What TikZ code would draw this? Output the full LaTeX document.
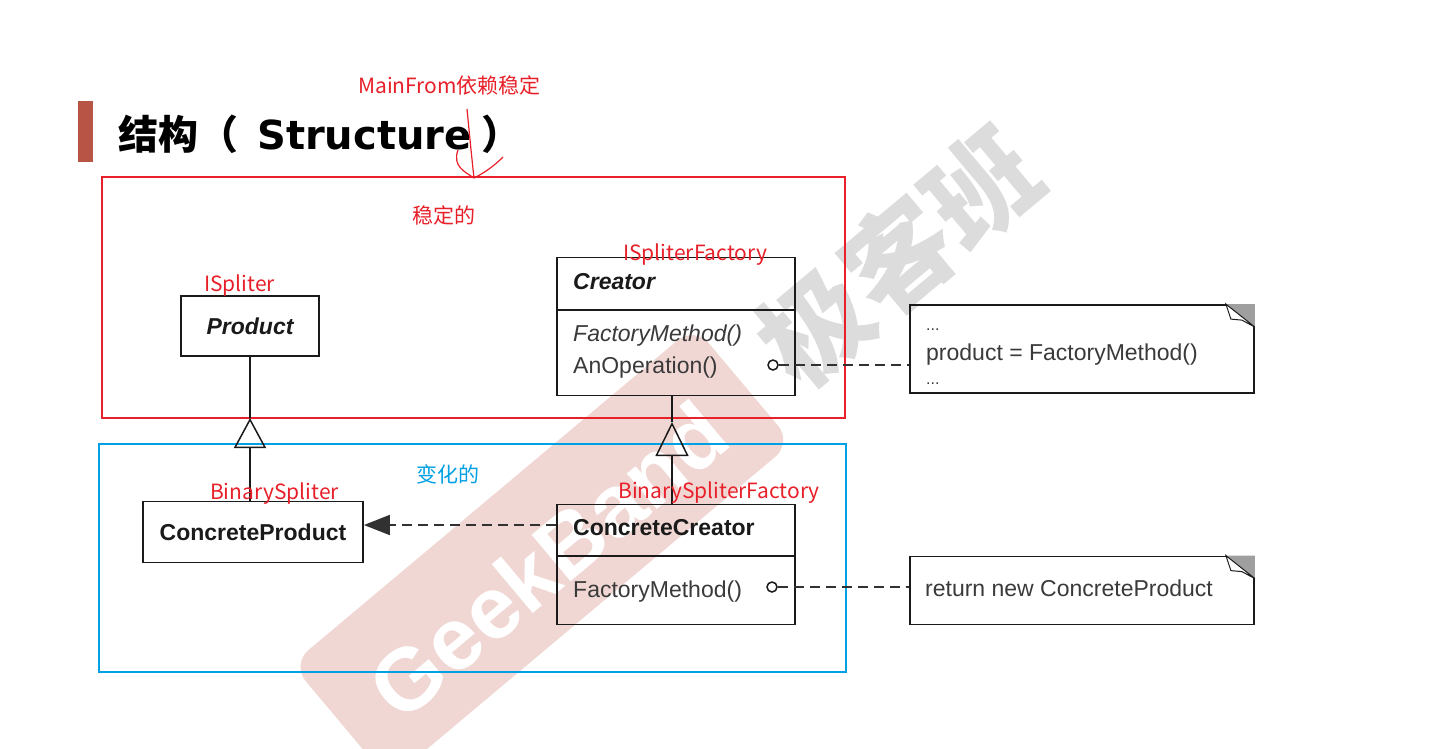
\documentclass[tikz,border=0pt]{standalone}
\usepackage{fontspec}
\setmainfont{Liberation Sans}
\newfontfamily\cjk{Noto Sans CJK SC}
\newfontfamily\titlelatin{DejaVu Sans}
\usetikzlibrary{arrows.meta}
\definecolor{lblred}{HTML}{E8202A}
\definecolor{lblblue}{HTML}{00A0E4}
\definecolor{barred}{HTML}{B85445}
\definecolor{wmpink}{HTML}{F0D7D4}
\definecolor{wmgrey}{HTML}{DCDCDC}
\definecolor{umlline}{HTML}{1A1A1A}
\definecolor{umltext}{HTML}{3A3A3A}
\begin{document}
\begin{tikzpicture}[x=1pt,y=-1pt,
  cls/.style={draw=umlline, line width=1.8pt, inner sep=0pt, rectangle, text=umlline,
    font=\bfseries\fontsize{23}{23}\selectfont},
  txt/.style={anchor=base west, inner sep=0pt, text=umltext, font=\fontsize{23}{23}\selectfont},
  lbl/.style={anchor=base west, inner sep=0pt, text=lblred, font=\cjk\fontsize{21}{21}\selectfont},
  ttl/.style={anchor=base west, inner sep=0pt, text=black},
  frame/.style={line width=1.6pt, inner sep=0pt, rectangle},
  gen/.style={line width=1.8pt, draw=umlline},
  dep/.style={dash pattern=on 10pt off 6pt, line width=1.8pt, draw=umlline!90},
  notebox/.style={draw=umlline, line width=1.8pt, inner sep=0pt, rectangle},
  dot/.style={circle, draw=umlline, line width=1.5pt, minimum size=10pt, inner sep=0pt}
]
\useasboundingbox[fill=white] (0,0) rectangle (1449,748);
% watermark
\begin{scope}
  \clip (0,0) rectangle (1449,748);
  \begin{scope}[shift={(300,665)}, rotate=40]
    \fill[wmpink, rounded corners=22pt] (-6,-6) rectangle (520,146);
  \end{scope}
\end{scope}
\node[rotate=40, inner sep=0pt, text=white, font=\bfseries\fontsize{88}{88}\selectfont] (wmen) at (548,560) {GeekBand};
\node[rotate=40, inner sep=0pt, text=wmgrey, font=\cjk\bfseries\fontsize{108}{108}\selectfont] (wmcn) at (898,256) {极客班};

% title
\fill[barred] (78,101) rectangle (93,162);
\node[ttl, font=\cjk\bfseries\fontsize{40}{40}\selectfont] (title) at (118,149) {结构（};
\node[ttl, font=\titlelatin\bfseries\fontsize{40}{40}\selectfont] (titleen) at (257,149) {Structure};
\node[ttl, font=\cjk\bfseries\fontsize{40}{40}\selectfont] (titleend) at (481,149) {）};
\node[lbl] (mainfrom) at (358,93) {MainFrom依赖稳定};
\draw[lblred, line width=1.2pt] (467,109) .. controls (470,140) and (472,160) .. (474,178);
\draw[lblred, line width=1.2pt] (458,150) .. controls (452,166) and (465,172) .. (474,178);
\draw[lblred, line width=1.2pt] (503,157) .. controls (492,168) and (482,174) .. (474,178);

% frames
\node[frame, draw=lblred, minimum width=743pt, minimum height=241pt] (stable) at (473.5,297.5) {};
\node[frame, draw=lblblue, minimum width=747pt, minimum height=228pt] (vary) at (472.5,558) {};
\node[lbl, anchor=center] (stablelbl) at (444,215) {稳定的};
\node[lbl, anchor=center, text=lblblue] (varylbl) at (448,474) {变化的};

% classes
\node[cls, minimum width=138pt, minimum height=60pt] (product) at (250,326) {\itshape Product};
\node[cls, minimum width=220pt, minimum height=61pt] (cprod) at (253,532) {ConcreteProduct};
\node[cls, minimum width=238pt, minimum height=138pt] (creator) at (676,326.5) {};
\coordinate (div1) at (0,310);
\draw[gen] (creator.west |- div1) -- (creator.east |- div1);
\node[txt, text=umlline, font=\bfseries\itshape\fontsize{23}{23}\selectfont] (creatorname) at (573,289) {Creator};
\node[txt, font=\itshape\fontsize{23}{23}\selectfont] (fm1) at (573,341) {FactoryMethod()};
\node[txt] (anop) at (573,373) {AnOperation()};

\node[cls, minimum width=238pt, minimum height=120pt] (ccreator) at (676,564.5) {};
\coordinate (div2) at (0,556);
\draw[gen] (ccreator.west |- div2) -- (ccreator.east |- div2);
\node[txt, text=umlline, font=\bfseries\fontsize{23}{23}\selectfont] (ccname) at (573,535) {ConcreteCreator};
\node[txt] (fm2) at (573,597) {FactoryMethod()};

% notes
\node[notebox, minimum width=344pt, minimum height=88pt] (note1) at (1082,349) {};
\fill[gray!75] ([xshift=-29pt]note1.north east) -- (note1.north east) -- ([yshift=-23pt]note1.north east) -- cycle;
\filldraw[fill=white, draw=umlline, line width=1pt] ([xshift=-29pt]note1.north east) -- ([xshift=-24pt,yshift=-15pt]note1.north east) -- ([xshift=-13pt,yshift=-16pt]note1.north east) -- ([yshift=-23pt]note1.north east) -- cycle;
\node[txt, font=\fontsize{16}{16}\selectfont] (dots1) at (926,330) {...};
\node[txt] (prodline) at (926,360) {product = FactoryMethod()};
\node[txt, font=\fontsize{16}{16}\selectfont] (dots2) at (926,384) {...};

\node[notebox, minimum width=344pt, minimum height=68pt] (note2) at (1082,590.5) {};
\fill[gray!75] ([xshift=-29pt]note2.north east) -- (note2.north east) -- ([yshift=-23pt]note2.north east) -- cycle;
\filldraw[fill=white, draw=umlline, line width=1pt] ([xshift=-29pt]note2.north east) -- ([xshift=-24pt,yshift=-15pt]note2.north east) -- ([xshift=-13pt,yshift=-16pt]note2.north east) -- ([yshift=-23pt]note2.north east) -- cycle;
\node[txt] (retline) at (925,596) {return new ConcreteProduct};

% operation dots and note links
\node[dot] (op1) at (773,365) {};
\node[dot] (op2) at (772,587) {};
\draw[dep] (op1.east) -- (op1.east -| note1.west);
\draw[dep] (op2.east) -- (op2.east -| note2.west);

% generalizations
\coordinate (apex1) at (250,418);
\draw[gen] (product.south) -- (apex1);
\draw[gen, -{Triangle[open, length=30pt, width=32pt, line width=1.5pt]}] (apex1 |- cprod.north) -- (apex1);
\coordinate (apex2) at (672,422);
\draw[gen] (apex2 |- creator.south) -- (apex2);
\draw[gen, -{Triangle[open, length=34pt, width=33pt, line width=1.5pt]}] (apex2 |- ccreator.north) -- (apex2);

% dependency
\coordinate (depy) at (0,525);
\draw[dep, -{Triangle[length=26pt, width=20pt]}] (ccreator.west |- depy) -- (cprod.east |- depy);

% labels
\node[lbl] (ispliter) at (204,291) {ISpliter};
\node[lbl] (isf) at (623,260) {ISpliterFactory};
\node[lbl] (bs) at (210,499) {BinarySpliter};
\node[lbl] (bsf) at (618,498) {BinarySpliterFactory};
\end{tikzpicture}
\end{document}
